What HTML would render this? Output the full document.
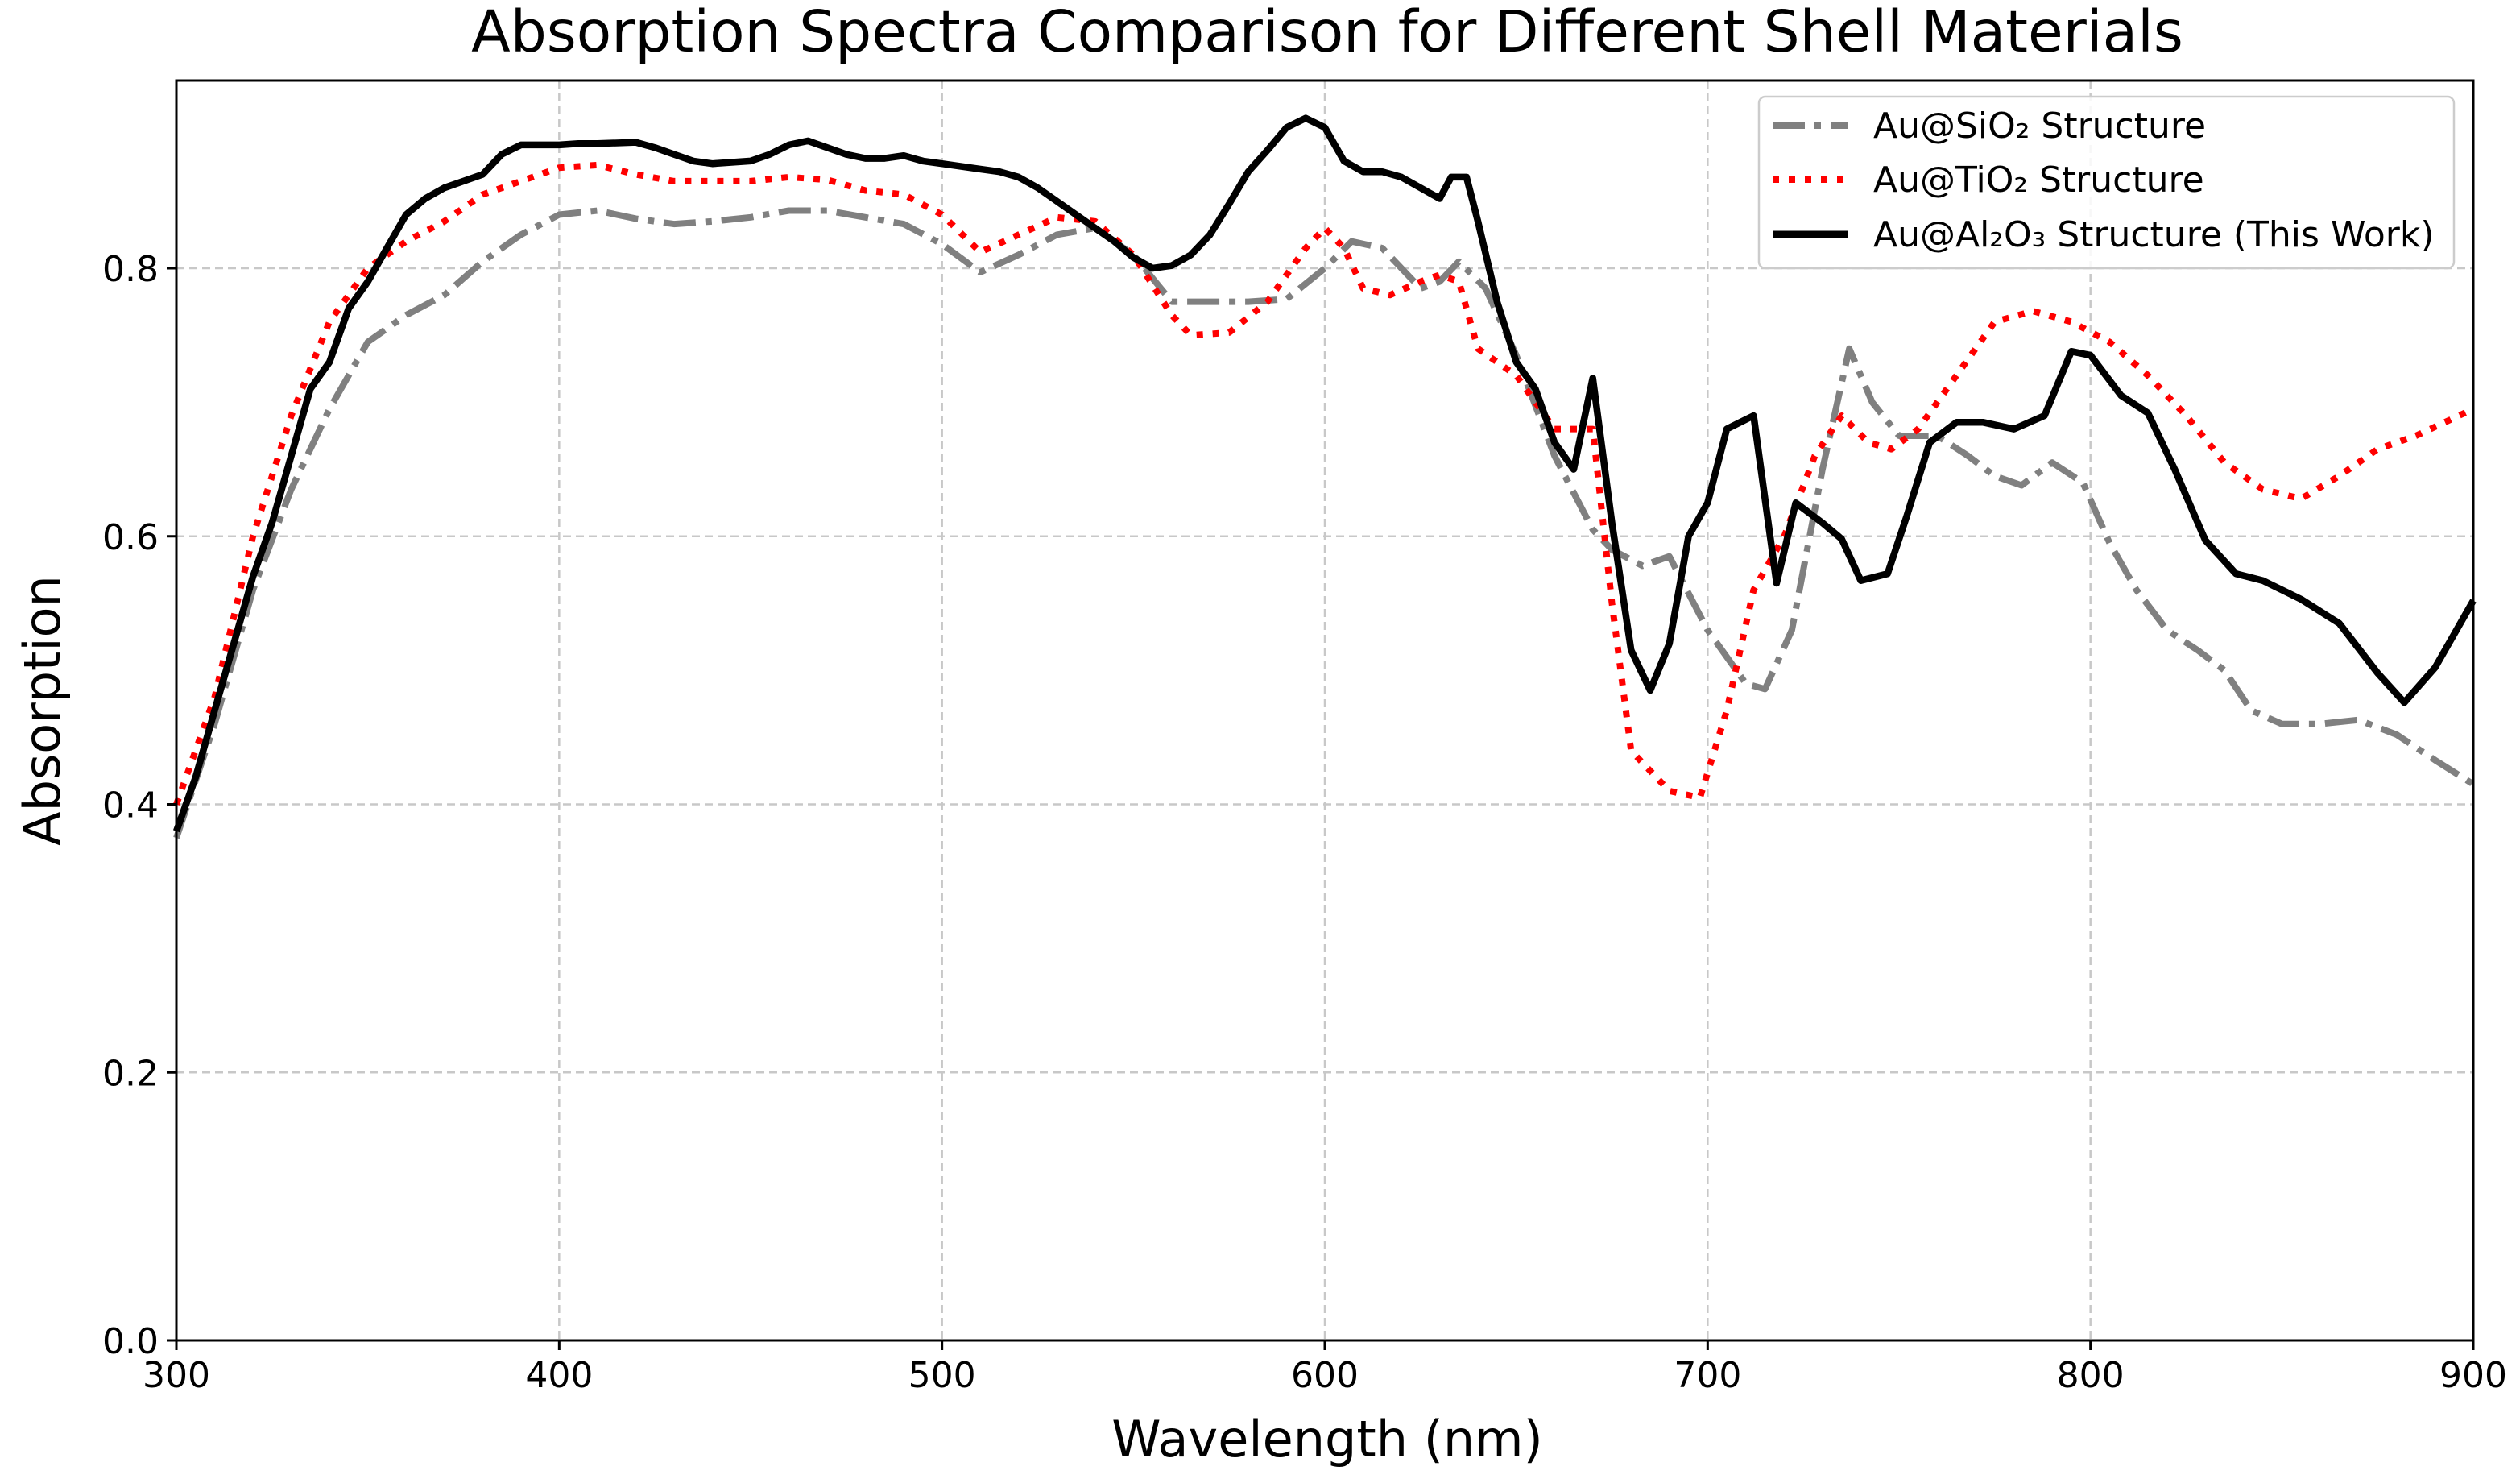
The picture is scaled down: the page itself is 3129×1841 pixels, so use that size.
<!DOCTYPE html>
<html><head><meta charset="utf-8"><style>
html,body{margin:0;padding:0;background:#fff;}
svg{display:block;font-family:"DejaVu Sans","Liberation Sans",sans-serif;}
</style></head><body>
<svg id="chart" width="3129" height="1841" viewBox="0 0 3129 1841" xmlns="http://www.w3.org/2000/svg">
<rect width="3129" height="1841" fill="#fff"/>
<text x="1648" y="64" font-size="71" text-anchor="middle">Absorption Spectra Comparison for Different Shell Materials</text>
<g id="grid"></g>
<g id="series"></g>
<rect x="219" y="100" width="2852" height="1564" fill="none" stroke="#000" stroke-width="3"/>
<g id="ticks"></g>
<text x="1648" y="1808" font-size="62" text-anchor="middle">Wavelength (nm)</text>
<text x="74" y="882" font-size="62" text-anchor="middle" transform="rotate(-90 74 882)">Absorption</text>
<g>
<rect x="2184" y="120" width="863" height="213" rx="8" fill="#fff" fill-opacity="0.85" stroke="#ccc" stroke-width="2.5"/>
<line x1="2201" y1="156" x2="2295" y2="156" stroke="#808080" stroke-width="8" stroke-dasharray="40 12 8 12"/>
<text x="2326" y="171" font-size="44">Au@SiO₂ Structure</text>
<line x1="2201" y1="223" x2="2295" y2="223" stroke="#ff0000" stroke-width="8" stroke-dasharray="8 12"/>
<text x="2326" y="238" font-size="44">Au@TiO₂ Structure</text>
<line x1="2201" y1="291" x2="2295" y2="291" stroke="#000" stroke-width="9"/>
<text x="2326" y="306" font-size="44">Au@Al₂O₃ Structure (This Work)</text>
</g>
</svg>
<script>
const xTicks=[300,400,500,600,700,800,900];
const yTicks=[0.0,0.2,0.4,0.6,0.8];
const yTickLabels=["0.0","0.2","0.4","0.6","0.8"];
const alWl=[300,305,310,315,320,325,330,335,340,345,350,355,360,365,370,375,380,385,390,395,400,405,410,420,425,430,435,440,450,455,460,465,470,475,480,485,490,495,500,505,510,515,520,525,530,535,540,545,550,555,560,565,570,575,580,585,590,595,600,605,610,615,620,625,630,633,637,640,645,650,655,660,665,670,675,680,685,690,695,700,705,712,718,723,730,735,740,747,752,758,765,772,780,788,795,800,808,815,822,830,838,845,855,865,875,882,890,900];
const alAbs=[0.38,0.42,0.47,0.52,0.57,0.61,0.66,0.71,0.73,0.77,0.79,0.815,0.84,0.852,0.86,0.865,0.87,0.885,0.892,0.892,0.892,0.893,0.893,0.894,0.89,0.885,0.88,0.878,0.88,0.885,0.892,0.895,0.89,0.885,0.882,0.882,0.884,0.88,0.878,0.876,0.874,0.872,0.868,0.86,0.85,0.84,0.83,0.82,0.808,0.80,0.802,0.81,0.825,0.848,0.872,0.888,0.905,0.912,0.905,0.88,0.872,0.872,0.868,0.86,0.852,0.868,0.868,0.835,0.775,0.73,0.71,0.67,0.65,0.718,0.61,0.515,0.485,0.52,0.60,0.625,0.68,0.69,0.565,0.625,0.61,0.598,0.567,0.572,0.615,0.67,0.685,0.685,0.68,0.69,0.738,0.735,0.705,0.692,0.65,0.597,0.572,0.567,0.553,0.535,0.498,0.476,0.502,0.552];
const tiWl=[300,310,320,330,340,350,360,370,380,390,400,410,420,430,440,450,460,470,480,490,500,510,520,530,540,550,560,565,575,585,595,600,605,610,617,625,630,635,640,650,660,670,675,680,690,698,705,712,720,728,735,742,748,755,765,775,785,795,805,815,825,835,845,855,865,875,885,900];
const tiAbs=[0.40,0.48,0.60,0.69,0.76,0.80,0.82,0.835,0.855,0.865,0.875,0.877,0.87,0.865,0.865,0.865,0.868,0.866,0.858,0.855,0.84,0.812,0.825,0.838,0.835,0.81,0.765,0.75,0.752,0.775,0.815,0.83,0.815,0.785,0.78,0.79,0.795,0.79,0.74,0.72,0.68,0.68,0.55,0.44,0.41,0.405,0.47,0.56,0.60,0.66,0.69,0.67,0.665,0.68,0.72,0.76,0.768,0.76,0.745,0.72,0.69,0.655,0.635,0.628,0.645,0.665,0.675,0.695];
const siWl=[300,310,320,330,340,350,360,370,380,390,400,410,420,430,440,450,460,470,480,490,500,510,520,530,540,550,560,570,580,590,600,607,615,625,630,635,642,650,660,670,675,683,690,700,710,715,722,730,737,743,750,760,768,775,782,790,798,805,812,820,828,835,842,850,860,870,880,890,900];
const siAbs=[0.375,0.46,0.56,0.635,0.695,0.745,0.765,0.78,0.805,0.825,0.84,0.843,0.837,0.833,0.835,0.838,0.843,0.843,0.838,0.833,0.818,0.797,0.81,0.825,0.83,0.81,0.775,0.775,0.775,0.777,0.80,0.82,0.815,0.785,0.79,0.805,0.785,0.735,0.66,0.605,0.59,0.578,0.585,0.53,0.49,0.486,0.53,0.65,0.74,0.70,0.675,0.675,0.66,0.645,0.638,0.655,0.64,0.595,0.56,0.53,0.515,0.50,0.47,0.46,0.46,0.463,0.452,0.433,0.415];

const NS="http://www.w3.org/2000/svg";
const X0=219,X1=3071,Y0=1664,PX=1663.75;
function sx(w){return X0+(w-300)/600*(X1-X0);}
function sy(v){return Y0-v*PX;}
const grid=document.getElementById('grid'),ticks=document.getElementById('ticks'),series=document.getElementById('series');
function mk(tag,attrs,parent){const e=document.createElementNS(NS,tag);for(const k in attrs)e.setAttribute(k,attrs[k]);parent.appendChild(e);return e;}
xTicks.forEach(t=>{
  const g=mk('line',{x1:sx(t),x2:sx(t),y1:100,y2:Y0,stroke:'#c8c8c8','stroke-width':2.5,'stroke-dasharray':'10 6'},grid);
  
  
  const tk=mk('line',{x1:sx(t),x2:sx(t),y1:Y0,y2:Y0+12,stroke:'#000','stroke-width':3},ticks);
  
  
  const tx=mk('text',{x:sx(t),y:Y0+58,'font-size':44,'text-anchor':'middle'},ticks);
  tx.textContent=String(t);
  
  
});
yTicks.forEach((t,i)=>{
  const g=mk('line',{x1:X0,x2:X1,y1:sy(t),y2:sy(t),stroke:'#c8c8c8','stroke-width':2.5,'stroke-dasharray':'10 6'},grid);
  
  
  const tk=mk('line',{x1:X0-12,x2:X0,y1:sy(t),y2:sy(t),stroke:'#000','stroke-width':3},ticks);
  
  
  const tx=mk('text',{x:X0-22,y:sy(t)+16,'font-size':44,'text-anchor':'end'},ticks);
  tx.textContent=yTickLabels[i];
  
  
});
function line(wl,ab,stroke,dash,w){
  const d=wl.map((x,i)=>(i?'L':'M')+sx(x).toFixed(1)+' '+sy(ab[i]).toFixed(1)).join(' ');
  const p=mk('path',{d:d,fill:'none',stroke:stroke,'stroke-width':w,'stroke-linejoin':'round'},series);
  if(dash)p.setAttribute('stroke-dasharray',dash);
  return p;
}
const p1=line(siWl,siAbs,'#808080','40 12 8 12',8);


const p2=line(tiWl,tiAbs,'#ff0000','8 12',8);


const p3=line(alWl,alAbs,'#000000',null,8.5);


</script>
</body></html>
